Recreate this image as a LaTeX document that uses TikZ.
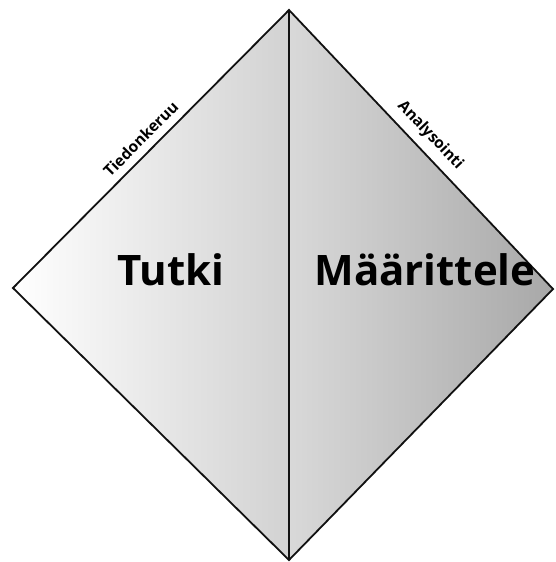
\documentclass[tikz,border=0pt]{standalone}
\usepackage{fontspec}
\setmainfont{Open Sans}
\usepackage{xcolor}
\usepackage{tikz}
\usetikzlibrary{positioning}
\definecolor{edgeblack}{HTML}{111111}
\definecolor{lightfill}{HTML}{FFFFFF}
\definecolor{midfill}{HTML}{D2D2D2}
\definecolor{darkfill}{HTML}{A8A8A8}

\begin{document}
\begin{tikzpicture}[x=1pt,y=-1pt,font=\bfseries]

\tikzset{
tri/.style={
    draw=edgeblack,
    line width=1.8pt,
    line join=miter
},
bigword/.style={
    font=\fontsize{42}{48}\selectfont\bfseries,
    anchor=base
},
edgeword/.style={
    font=\fontsize{15.5}{18}\selectfont\bfseries,
    sloped,
    above=5pt
}
}

\useasboundingbox (0,0) rectangle (556,562);

\coordinate (top) at (289,10);
\coordinate (bot) at (289,560);
\coordinate (west) at (13,288);
\coordinate (east) at (553,289);

% two halves
\shade[left color=lightfill, right color=midfill] (top) -- (west) -- (bot) -- cycle;
\shade[left color=midfill!85, right color=darkfill] (top) -- (east) -- (bot) -- cycle;

\draw[tri] (top) -- (west) -- (bot) -- (east) -- cycle;
\draw[tri] (top) -- (bot);

% edge labels
\path (west) -- node[edgeword, pos=0.5] (gather) {Tiedonkeruu} (top);
\path (top) -- node[edgeword, pos=0.49] (analyse) {Analysointi} (east);

\node[bigword] (explore) at (171,285) {Tutki};
\node[bigword] (define) at (425,285) {Määrittele};

\end{tikzpicture}
\end{document}
